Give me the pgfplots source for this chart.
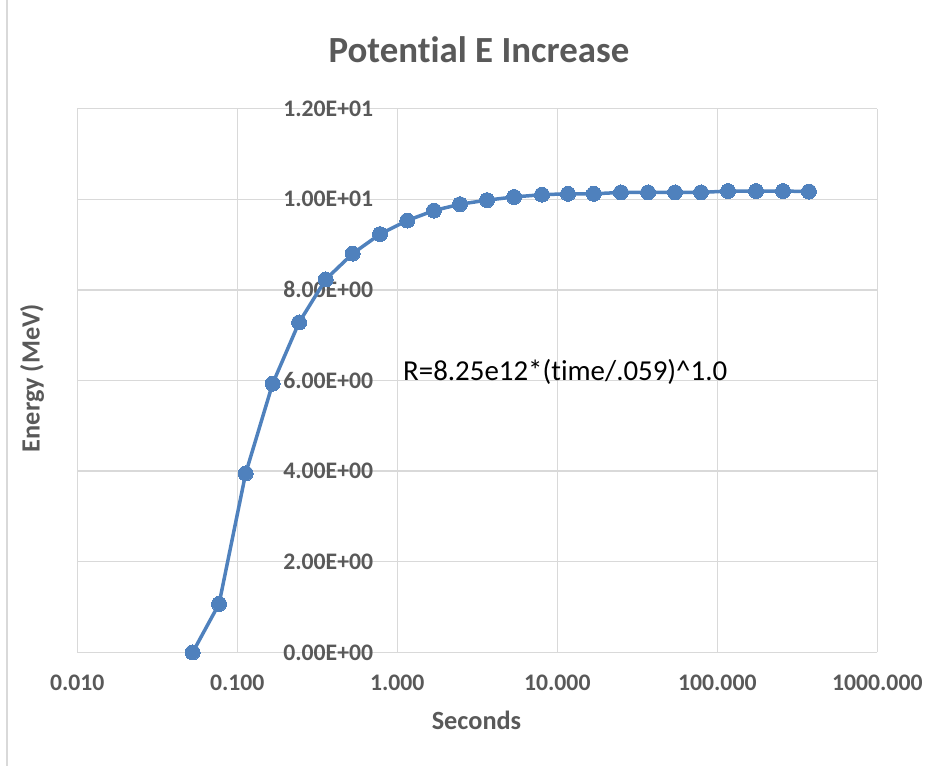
\documentclass[border=0pt]{standalone}
\usepackage{pgfplots}
\pgfplotsset{compat=1.18}
\usepackage{fontspec}
\setmainfont{Carlito}[Ligatures=NoCommon]
\definecolor{txtgray}{HTML}{595959}
\definecolor{gridgray}{HTML}{D9D9D9}
\definecolor{serblue}{HTML}{4F81BD}
\begin{document}
\begin{tikzpicture}[x=1bp,y=1bp]
\useasboundingbox (-77.3,-113.6) rectangle (862.7,652.4);
\draw[gridgray, line width=2bp] (-70.6,-113.6) -- (-70.6,652.4);
\begin{axis}[
  at={(0,0)}, anchor=south west,
  scale only axis, width=800bp, height=543.8bp,
  xmode=log, log basis x=10,
  xmin=0.01, xmax=1000, ymin=0, ymax=12,
  xtick={0.01,0.1,1,10,100,1000},
  xticklabels={0.010,0.100,1.000,10.000,100.000,1000.000},
  ytick={0,2,4,6,8,10,12},
  yticklabels={0.00E+00,2.00E+00,4.00E+00,6.00E+00,8.00E+00,1.00E+01,1.20E+01},
  grid=major,
  major grid style={draw=gridgray, line width=1.3bp},
  axis line style={draw=none},
  tick style={draw=none},
  minor tick num=0,
  tick label style={font=\fontsize{23.8}{28}\selectfont\bfseries, text=txtgray, inner sep=0pt},
  xticklabel style={anchor=center, yshift=-30.6bp},
  yticklabel style={anchor=east, xshift=296bp},
  title={Potential E Increase},
  title style={at={(axis description cs:0.502,1.0967)}, anchor=center, inner sep=0pt,
    font=\fontsize{37}{44}\selectfont\bfseries, text=txtgray},
  xlabel={Seconds},
  xlabel style={at={(axis description cs:0.499,-0.1243)}, anchor=center, inner sep=0pt,
    font=\fontsize{26.4}{31}\selectfont\bfseries, text=txtgray},
  ylabel={Energy (MeV)},
  ylabel style={at={(axis description cs:-0.0566,0.5046)}, anchor=center, inner sep=0pt,
    font=\fontsize{26.4}{31}\selectfont\bfseries, text=txtgray},
  clip=false,
]
\addplot[color=serblue, line width=3.5bp, mark=*, mark size=7.5bp,
  mark options={fill=serblue, draw=serblue, line width=0pt}] table {
x y
0.0526 0.0
0.0769 1.07
0.1128 3.95
0.1663 5.93
0.2432 7.28
0.3568 8.23
0.526 8.80
0.780 9.23
1.155 9.53
1.695 9.75
2.466 9.89
3.64 9.98
5.37 10.05
8.02 10.10
11.66 10.12
16.9 10.12
25.0 10.15
36.9 10.15
54.4 10.15
79.1 10.15
116.7 10.18
174.6 10.18
257.6 10.18
374 10.17
};
\end{axis}
\node[anchor=base west, inner sep=0pt, font=\fontsize{29}{34}\selectfont] at (325.7,271.4) {R=8.25e12*(time/.059)\^{}1.0};
\end{tikzpicture}
\end{document}
